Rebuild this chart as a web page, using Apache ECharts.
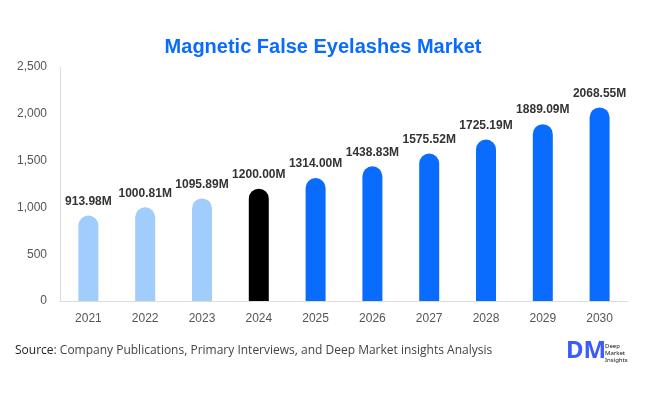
<!DOCTYPE html>
<html><head><meta charset="utf-8">
<script src="https://cdn.jsdelivr.net/npm/echarts@6/dist/echarts.min.js"></script>
<style>html,body{margin:0;padding:0;background:#fff}#c{width:646px;height:394px}</style>
</head><body><div id="c"></div>
<script>
const categories = ['2021','2022','2023','2024','2025','2026','2027','2028','2029','2030'];
const values = [913.98, 1000.81, 1095.89, 1200.00, 1314.00, 1438.83, 1575.52, 1725.19, 1889.09, 2068.55];
const barColors = ['#a0cdfc','#a0cdfc','#a0cdfc','#000000','#0a6cff','#0a6cff','#0a6cff','#0a6cff','#0a6cff','#0a6cff'];
const yTicks = [0, 500, 1000, 1500, 2000, 2500];

const chart = echarts.init(document.getElementById('c'));
chart.setOption({
  animation: false,
  title: {
    text: 'Magnetic False Eyelashes Market',
    left: 'center', top: 32,
    textStyle: { color: '#0a6cff', fontSize: 20, fontWeight: 'bold', fontFamily: '"Liberation Sans", Arial, sans-serif' }
  },
  grid: { left: 60, right: 18, top: 67, bottom: 93, containLabel: false },
  xAxis: {
    type: 'category', data: categories,
    axisLine: { lineStyle: { color: '#ddd' } },
    axisTick: { show: false },
    axisLabel: { color: '#555', fontSize: 12, margin: 12, fontFamily: 'Liberation Sans, Arial, sans-serif' }
  },
  yAxis: {
    type: 'value', min: yTicks[0], max: yTicks[yTicks.length-1], interval: 500,
    axisLine: { show: true, lineStyle: { color: '#ddd' } },
    axisTick: { show: false },
    splitLine: { show: false },
    axisLabel: { color: '#555', fontSize: 12, margin: 13, fontFamily: 'Liberation Sans, Arial, sans-serif',
      formatter: v => v.toLocaleString('en-US') }
  },
  series: [{
    type: 'bar', barWidth: 20,
    data: values.map((v, i) => ({ value: v, itemStyle: { color: barColors[i], borderRadius: [10,10,0,0] } })),
    label: { show: true, position: 'top', distance: 8, color: '#333', fontSize: 12, fontWeight: 'bold',
      fontFamily: 'Liberation Sans, Arial, sans-serif',
      formatter: p => p.value.toFixed(2) + 'M' }
  }],
  graphic: [
    { type: 'text', left: 15, top: 345, style: {
      text: '{b|Source}: Company Publications, Primary Interviews, and Deep Market insights Analysis',
      font: '12px "Open Sans", sans-serif', fill: '#444',
      rich: { b: { font: '500 12px "Open Sans", sans-serif', fill: '#222' } } } },
    { type: 'text', left: 566, top: 339, style: { text: 'DM', font: 'bold 24px "Noto Sans", sans-serif', fill: '#3d5afe' } },
    { type: 'text', left: 605, top: 343, style: { text: 'Deep\nMarket\nInsights', font: '6px "Noto Sans", sans-serif', fill: '#111', lineHeight: 7 } }
  ]
});
</script></body></html>
